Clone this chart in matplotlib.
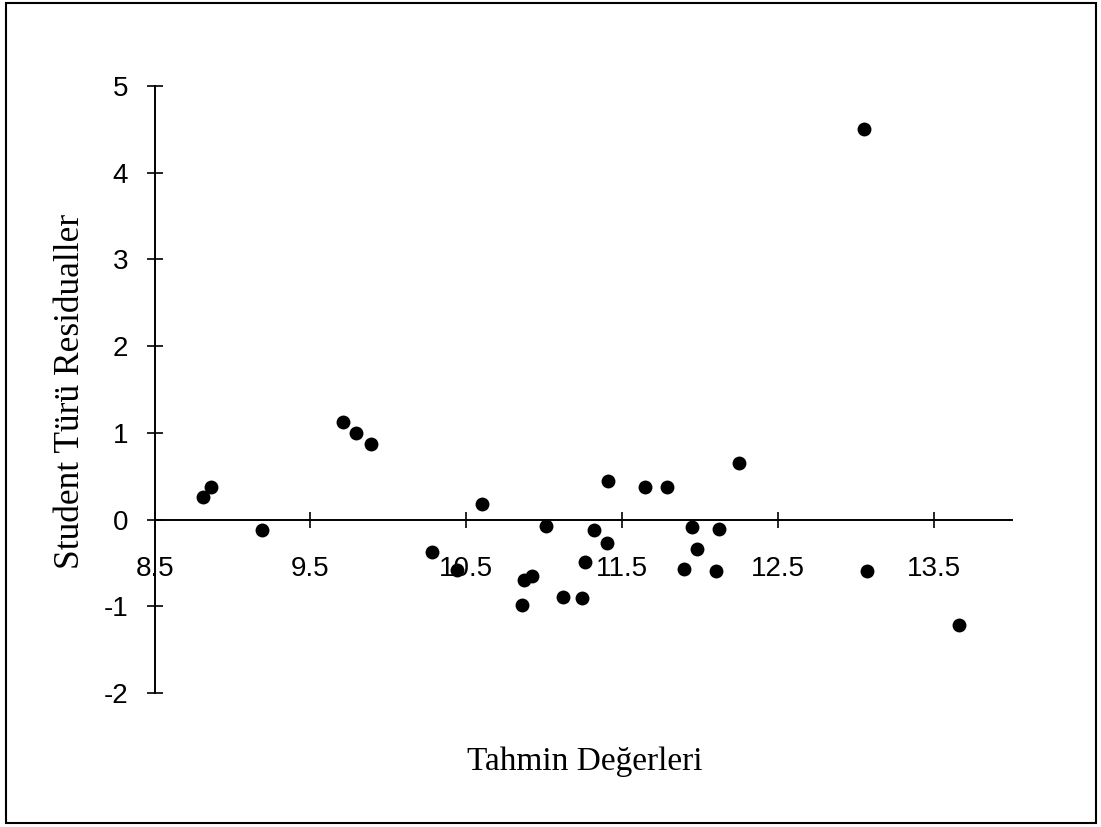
import matplotlib
matplotlib.use("Agg")
import matplotlib.pyplot as plt
from matplotlib.patches import Rectangle

# Data
tahmin = [8.81, 8.86, 9.19, 9.71, 9.79, 9.89, 10.28, 10.44, 10.60, 10.86,
          10.87, 10.92, 11.01, 11.12, 11.24, 11.26, 11.32, 11.40, 11.41, 11.65,
          11.79, 11.90, 11.95, 11.98, 12.10, 12.12, 12.25, 13.05, 13.07, 13.66]
residual = [0.26, 0.38, -0.12, 1.12, 1.00, 0.87, -0.37, -0.58, 0.18, -0.98,
            -0.70, -0.65, -0.07, -0.89, -0.90, -0.49, -0.12, -0.27, 0.45, 0.38,
            0.38, -0.57, -0.08, -0.34, -0.59, -0.11, 0.65, 4.50, -0.59, -1.22]
x_ticks = [8.5, 9.5, 10.5, 11.5, 12.5, 13.5]
x_ticklabels = ["8.5", "9.5", "10.5", "11.5", "12.5", "13.5"]
y_ticks = [-2, -1, 0, 1, 2, 3, 4, 5]
y_ticklabels = ["-2", "-1", "0", "1", "2", "3", "4", "5"]
x_label = "Tahmin Değerleri"
y_label = "Student Türü Residualler"

W, H = 1101, 827
fig = plt.figure(figsize=(W / 100, H / 100), dpi=100)
fig.patch.set_facecolor("white")

left, right = 154.6 / W, 1011.7 / W
bottom, top = 1 - 693 / H, 1 - 86 / H
ax = fig.add_axes([left, bottom, right - left, top - bottom])

ax.scatter(tahmin, residual, s=100, color="black", zorder=3, linewidths=0)

ax.set_xlim(8.5, 14)
ax.set_ylim(-2, 5)

for s in ["top", "right"]:
    ax.spines[s].set_visible(False)
ax.spines["bottom"].set_position(("data", 0))
ax.spines["left"].set_position(("data", 8.5))
for s in ["bottom", "left"]:
    ax.spines[s].set_linewidth(1.4)
    ax.spines[s].set_color("black")

ax.set_xticks(x_ticks)
ax.set_xticklabels(x_ticklabels)
ax.set_yticks(y_ticks)
ax.set_yticklabels(y_ticklabels)

ax.tick_params(axis="both", direction="inout", length=12, width=1.2, color="black")
ax.tick_params(axis="x", pad=20, labelsize=20)
ax.tick_params(axis="y", pad=13, labelsize=20)
for lab in ax.get_xticklabels() + ax.get_yticklabels():
    lab.set_fontfamily("Liberation Sans")

fig.text(585 / W, 1 - 762 / H, x_label, ha="center", va="center",
         fontsize=24, family="Liberation Serif")
fig.text(71 / W, 1 - 391 / H, y_label, ha="center", va="center",
         rotation=90, fontsize=25.5, family="Liberation Serif")

fig.patches.append(Rectangle((6 / W, 1 - 823 / H), 1090 / W, 820 / H,
                             transform=fig.transFigure, fill=False,
                             edgecolor="black", linewidth=1.5))

fig.savefig("out.png", dpi=100)
